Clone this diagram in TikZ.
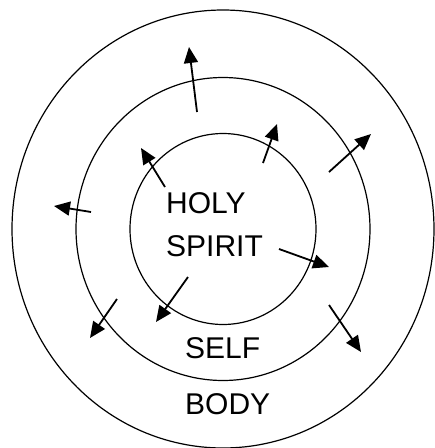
\documentclass[tikz,border=0pt]{standalone}
\usepackage{fontspec}
\setmainfont{Liberation Sans}
\usetikzlibrary{arrows.meta}

\begin{document}
\begin{tikzpicture}[x=1pt, y=-1pt,
    >={Triangle[length=16pt, width=14pt]},
    ring/.style={draw, line width=1.2pt},
    ray/.style={->, line width=1.8pt},
    word/.style={font=\fontsize{30}{30}\selectfont, anchor=base west, inner sep=0pt},
]
\useasboundingbox (0,0) rectangle (435,448);
\coordinate (centre) at (223,229);
% the three rings
\draw[ring] (centre) ellipse [x radius=211, y radius=219];
\draw[ring] (centre) ellipse [x radius=147, y radius=151.5];
\draw[ring] (centre) ellipse [x radius=93, y radius=95.5];
% labels
\node[word] (holy) at (166,213) {HOLY};
\node[word] (spirit) at (166,256) {SPIRIT};
\node[word] (self) at (185,358) {SELF};
\node[word] (body) at (185,414) {BODY};
% arrow ends
\coordinate (a1) at (197,112); \coordinate (b1) at (189,47);
\coordinate (a2) at (263,163); \coordinate (b2) at (277,124);
\coordinate (a3) at (329,172); \coordinate (b3) at (371,134);
\coordinate (a4) at (165,187); \coordinate (b4) at (141,148);
\coordinate (a5) at (91,212);  \coordinate (b5) at (54,206);
\coordinate (a6) at (279,249); \coordinate (b6) at (329,267);
\coordinate (a7) at (188,277); \coordinate (b7) at (156,322);
\coordinate (a8) at (117,299); \coordinate (b8) at (90,338);
\coordinate (a9) at (329,305); \coordinate (b9) at (361,352);
\draw[ray] (a1) -- (b1);
\draw[ray] (a2) -- (b2);
\draw[ray] (a3) -- (b3);
\draw[ray] (a4) -- (b4);
\draw[ray] (a5) -- (b5);
\draw[ray] (a6) -- (b6);
\draw[ray] (a7) -- (b7);
\draw[ray] (a8) -- (b8);
\draw[ray] (a9) -- (b9);
\end{tikzpicture}
\end{document}
